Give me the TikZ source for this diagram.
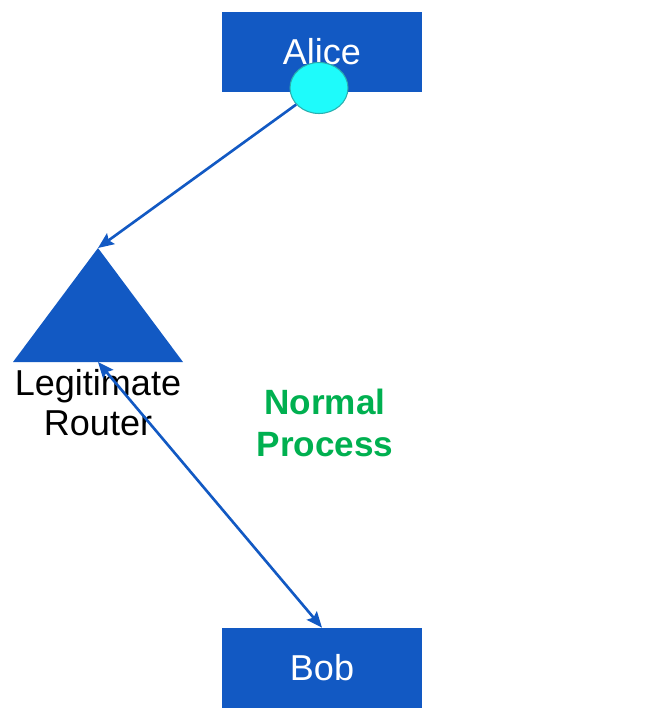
\documentclass[tikz,border=0pt]{standalone}
\usepackage{fontspec}
\setmainfont{Liberation Sans}
\usetikzlibrary{arrows.meta, positioning, shapes.geometric}
\definecolor{boxblue}{HTML}{1259C3}
\definecolor{dotcyan}{HTML}{1EFBFB}
\definecolor{dotedge}{HTML}{2AAFAF}
\definecolor{textgreen}{HTML}{00B050}

\begin{document}
\begin{tikzpicture}[x=0.02cm, y=-0.02cm, >={Stealth[length=9pt, width=7.5pt, inset=1.5pt]},
    hostbox/.style={fill=boxblue, text=white, minimum width=4cm, minimum height=1.6cm,
      inner sep=0pt, font=\fontsize{20.5}{24}\selectfont},
    link/.style={draw=boxblue, line width=1.5pt}]
    \useasboundingbox (0,0) rectangle (656,721);

    % hosts
    \node[hostbox] (alice) at (322,52) {Alice};
    \node[hostbox] (bob) at (322,668) {Bob};
    \node[ellipse, fill=dotcyan, draw=dotedge, line width=0.6pt, inner sep=0pt,
      minimum width=1.16cm, minimum height=1.02cm] (dot) at (319,88) {};

    % router
    \coordinate (apex) at (98,248);
    \coordinate (routerbase) at (98,362);
    \fill[boxblue] (13,362) -- (183,362) -- (apex) -- cycle;
    \node[align=center, font=\fontsize{20.5}{22.8}\selectfont] (routerlabel) at (98,403) {Legitimate\\Router};

    \node[align=center, text=textgreen, font=\fontsize{20}{24}\selectfont\bfseries] (process) at (325,423) {Normal\\Process};

    % links
    \draw[link, ->] (dot) -- (apex);
    \draw[link, <->] (routerbase) -- (bob.north);
\end{tikzpicture}
\end{document}
